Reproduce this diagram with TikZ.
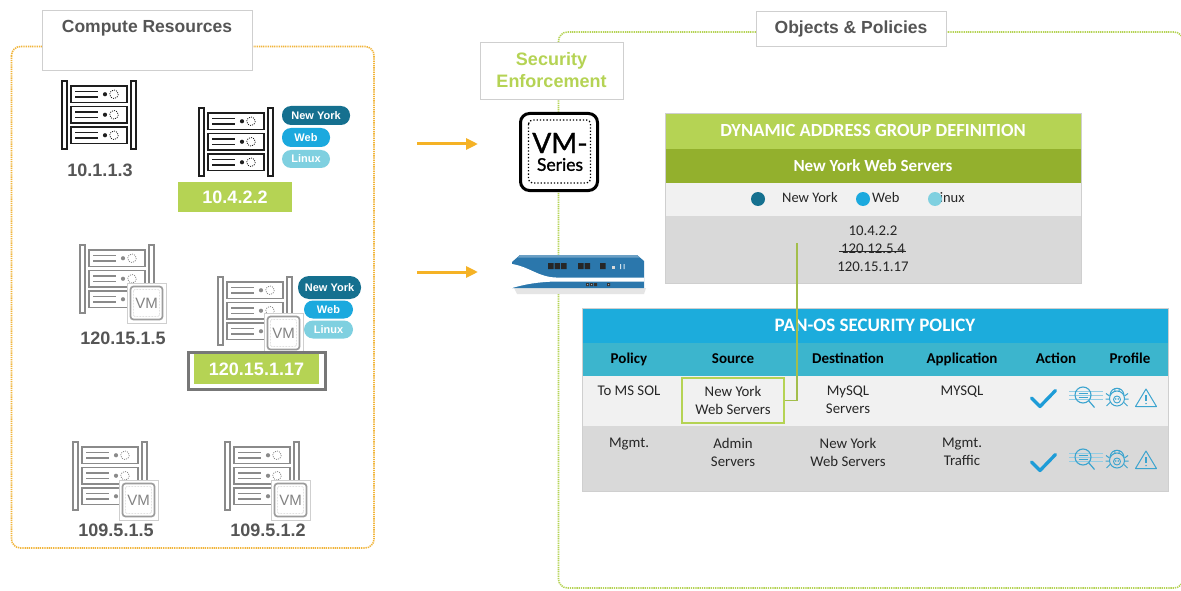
\documentclass[tikz,border=0pt]{standalone}
\usepackage{fontspec}
\setmainfont{Carlito}
\newfontfamily\arialfont{Liberation Sans}
\newfontfamily\latofont[FakeBold=1.2]{Lato}
\usetikzlibrary{arrows.meta,calc}

\definecolor{lime}{HTML}{B5D354}
\definecolor{olive}{HTML}{93B02D}
\definecolor{nyblue}{HTML}{15708F}
\definecolor{webblue}{HTML}{1BA9DE}
\definecolor{linuxblue}{HTML}{7FD0E0}
\definecolor{panelorange}{HTML}{F1B53A}
\definecolor{arroworange}{HTML}{F5B225}
\definecolor{titleblue}{HTML}{1CACDC}
\definecolor{headteal}{HTML}{3CB5CD}
\definecolor{rowlight}{HTML}{F1F1F1}
\definecolor{rowgray}{HTML}{D9D9D9}
\definecolor{labelgray}{HTML}{555555}
\definecolor{boxgray}{HTML}{CFCFCF}
\definecolor{iconblue}{HTML}{3BA4CF}
\definecolor{checkblue}{HTML}{1E9CD7}
\definecolor{fwblue}{HTML}{2B77AC}
\definecolor{rackblack}{HTML}{1E1E1E}
\definecolor{rackgray}{HTML}{8A8A8A}
\definecolor{tabletext}{HTML}{262626}
\definecolor{framegray}{HTML}{777777}

\tikzset{
  greendot/.style={draw=lime, line width=1.6pt, dash pattern=on 1.3pt off 0.9pt},
  orangedot/.style={draw=panelorange, line width=1.6pt, dash pattern=on 1.3pt off 0.9pt},
  titlebox/.style={draw=boxgray, fill=white, line width=0.9pt, inner sep=0pt},
  titletext/.style={inner sep=0pt, text=labelgray, font=\arialfont\bfseries\fontsize{17.5}{17.5}\selectfont},
  iplabel/.style={inner sep=0pt, text=labelgray, font=\arialfont\bfseries\fontsize{18}{18}\selectfont},
  greenlabel/.style={fill=lime, inner sep=0pt, text=white, font=\arialfont\bfseries\fontsize{18}{18}\selectfont},
  tagpill/.style={fill=#1, rounded corners=9pt, inner sep=0pt, text=white,
    font=\arialfont\bfseries\fontsize{11}{11}\selectfont},
  orangearrow/.style={draw=arroworange, line width=3pt, -{Triangle[length=12pt,width=11pt]}},
  rowbox/.style={inner sep=0pt, outer sep=0pt, minimum width=586pt},
  dagrow/.style={inner sep=0pt, outer sep=0pt, minimum width=416pt},
  oneline/.style={text height=10pt, text depth=3pt},
  bodytext/.style={inner sep=0pt, text=tabletext, align=center, font=\fontsize{14.8}{18}\selectfont},
  headtext/.style={inner sep=0pt, oneline, text=black, font=\bfseries\fontsize{15}{18}\selectfont},
  legendtext/.style={inner sep=0pt, oneline, anchor=west, text=tabletext, font=\fontsize{14.5}{18}\selectfont},
  % server rack icon, origin at its top left corner
  pics/rack/.style={code={
    \begin{scope}[draw=#1, line width=1.8pt]
      \draw[fill=white] (0.9,0.9) rectangle (6.1,69.1);
      \draw[fill=white] (69.9,0.9) rectangle (75.1,69.1);
      \foreach \yy in {6,26.5,47}{
        \draw[fill=white] (10,\yy) rectangle (66,\yy+16.5);
        \draw (14,\yy+5.5) -- (37,\yy+5.5) (14,\yy+11) -- (37,\yy+11);
        \fill[#1] (44,\yy+8.25) circle (2.1);
        \draw[line width=0.8pt, dash pattern=on 1pt off 1.2pt] (53,\yy+8.25) circle (4.3);
      }
    \end{scope}
  }},
  % virtual machine badge, origin at its top left corner
  pics/vmbadge/.style={code={
    \draw[draw=boxgray, fill=white, line width=0.8pt] (0,0) rectangle (39,40);
    \draw[draw=rackgray!85, line width=1.7pt, rounded corners=3pt, fill=white] (3.5,3.5) rectangle (35.5,36.5);
    \draw[draw=rackgray!60, line width=0.5pt, dash pattern=on 0.6pt off 0.9pt, rounded corners=1.5pt] (6.5,6.5) rectangle (32.5,33.5);
    \node[inner sep=0pt, text=rackgray!95!black, font=\arialfont\fontsize{15}{15}\selectfont] (-vm) at (19.5,20.5) {VM};
  }},
  pics/allowmark/.style={code={
    \draw[checkblue, line width=3.3pt, line cap=round, line join=round] (-11.5,0) -- (-3,8.5) -- (12.5,-7.5);
  }},
  pics/urlicon/.style={code={
    \draw[iconblue!55, line width=0.6pt] (-14,-3.5) -- (20,-3.5) (-14,0.5) -- (20,0.5) (-14,4.5) -- (20,4.5);
    \draw[iconblue, line width=1.1pt] (0,0) circle (8);
    \draw[iconblue, line width=1.2pt] (5.7,5.7) -- (11.5,12.5);
    \draw[iconblue, line width=0.8pt] (-4.5,-2) -- (4.5,-2) (-4.5,2) -- (4.5,2);
  }},
  pics/bugicon/.style={code={
    \draw[iconblue, line width=1pt] (0,1.5) circle (7.5);
    \draw[iconblue, line width=1pt] (-7,-2) .. controls (-6,-11) and (6,-11) .. (7,-2);
    \draw[iconblue, line width=0.9pt] (0,2.5) circle (3.5);
    \draw[iconblue, line width=1pt] (-7.5,-1) -- (-11,-3.5) (-7.7,2) -- (-11.5,2) (-7,5.5) -- (-10.5,9)
      (7.5,-1) -- (11,-3.5) (7.7,2) -- (11.5,2) (7,5.5) -- (10.5,9) (-2.2,-8.5) -- (-2.2,-6) (2.2,-8.5) -- (2.2,-6);
    \fill[iconblue] (-1.3,2) circle (0.9) (1.3,2) circle (0.9);
  }},
  pics/warnicon/.style={code={
    \draw[iconblue, line width=1pt, line join=round] (0,-9) -- (10.5,8.5) -- (-10.5,8.5) -- cycle;
    \draw[iconblue, line width=1.1pt] (0,-3) -- (0,3.2);
    \fill[iconblue] (0,5.6) circle (0.85);
  }},
}

\begin{document}
\begin{tikzpicture}[x=1pt,y=-1pt]
\useasboundingbox (0,0) rectangle (1181,591);
\fill[white] (0,0) rectangle (1181,591);

% ---------- group frames ----------
\draw[orangedot, rounded corners=9pt] (11.5,46.5) rectangle (374,548);
\begin{scope}
  \clip (0,0) rectangle (1181,591);
  \draw[greendot, rounded corners=9pt] (558.5,32) rectangle (1183,588);
\end{scope}

% ---------- group titles ----------
\node[titlebox, minimum width=210pt, minimum height=60pt] (crbox) at (147,40) {};
\node[titletext] (crtitle) at (147,28.5) {Compute Resources};
\node[titlebox, minimum width=190pt, minimum height=35pt] (opbox) at (851,28.5) {};
\node[titletext] (optitle) at (851,29) {Objects \& Policies};
\node[titlebox, minimum width=143pt, minimum height=57pt, text=lime, align=center,
      font=\arialfont\bfseries\fontsize{18}{22}\selectfont] (sebox) at (551.5,70.5) {Security\\Enforcement};

% ---------- compute resources ----------
\pic (r1) at (61,80) {rack=rackblack};
\node[iplabel] (ip1) at (100,170.5) {10.1.1.3};

\pic (r2) at (198,107) {rack=rackblack};
\node[tagpill=nyblue, minimum width=68pt, minimum height=19pt] (t2ny) at (316,115.5) {New York};
\node[tagpill=webblue, minimum width=48pt, minimum height=19pt] (t2web) at (306,137.5) {Web};
\node[tagpill=linuxblue, minimum width=48pt, minimum height=18pt] (t2lin) at (306,159) {Linux};
\node[greenlabel, minimum width=114pt, minimum height=30pt] (ip2) at (235,197) {10.4.2.2};

\pic (r3) at (79,244) {rack=rackgray};
\pic (v3) at (127,283) {vmbadge};
\node[iplabel] (ip3) at (123,338) {120.15.1.5};

\pic (r4) at (217,276) {rack=rackgray};
\pic (v4) at (264,313) {vmbadge};
\node[tagpill=nyblue, minimum width=63pt, minimum height=23pt, rounded corners=11pt] (t4ny) at (329.5,287.5) {New York};
\node[tagpill=webblue, minimum width=49pt, minimum height=18pt] (t4web) at (328.5,309.5) {Web};
\node[tagpill=linuxblue, minimum width=49pt, minimum height=18pt] (t4lin) at (328.5,329.5) {Linux};
\node[draw=framegray, line width=3pt, minimum width=137pt, minimum height=37pt, inner sep=0pt] (ip4frame) at (257,371) {};
\node[greenlabel, minimum width=125pt, minimum height=30pt] (ip4) at (256.5,369) {120.15.1.17};

\pic (r5) at (72,441) {rack=rackgray};
\pic (v5) at (119,480) {vmbadge};
\node[iplabel] (ip5) at (116,530) {109.5.1.5};

\pic (r6) at (224,441) {rack=rackgray};
\pic (v6) at (271,480) {vmbadge};
\node[iplabel] (ip6) at (268,530) {109.5.1.2};

% ---------- traffic arrows ----------
\coordinate (a1s) at (417,144);
\coordinate (a1e) at (478,144);
\coordinate (a2s) at (417,272);
\coordinate (a2e) at (478,272);
\draw[orangearrow] (a1s) -- (a1e);
\draw[orangearrow] (a2s) -- (a2e);

% ---------- VM-Series firewall ----------
\node[draw=black, line width=3pt, rounded corners=9pt, fill=white, minimum size=77pt, inner sep=0pt] (vmseries) at (559,152) {};
\draw[black, line width=1.3pt, dash pattern=on 1.3pt off 2pt, rounded corners=4pt] (528.5,120) rectangle (590.5,183);
\node[inner sep=0pt, font=\latofont\fontsize{28}{28}\selectfont] (vmtxt) at (560,143) {VM-};
\node[inner sep=0pt, font=\latofont\fontsize{17.5}{17.5}\selectfont] (sertxt) at (560,164.5) {Series};

% ---------- hardware firewall appliance ----------
\fill[black!10] (514,288) -- (646,288) -- (644,294) -- (517,294) -- cycle;
\fill[fwblue] (512,262) -- (520,255) -- (637,255) -- (644,261) -- (644,288) -- (512,288) -- cycle;
\fill[fwblue!70!white] (520,255) -- (637,255) -- (639.5,257.5) -- (517.5,257.5) -- cycle;
\fill[white] (512,264) .. controls (530,267) and (538,277) .. (556,277.5) -- (644,277.5) -- (644,281.5)
  -- (556,281.5) .. controls (538,282) and (526,284) .. (512,288) -- cycle;
\fill[black!85] (548,263) rectangle (553.5,269) (554.5,263) rectangle (560,269) (561,263) rectangle (566.5,269)
  (578,263) rectangle (583.5,269) (584.5,263) rectangle (590,269) (600,263) rectangle (605.5,269);
\fill[white!85!black] (612,266) rectangle (614.5,268.5);
\fill[white!80!fwblue] (620,264) rectangle (621,269) (623.5,264) rectangle (624.5,269);
\fill[black!80] (586,283) rectangle (589,286) (590,283) rectangle (593,286) (594,283) rectangle (597,286) (607,283) rectangle (610,286);
\fill[white!70!black] (587,284) rectangle (588,285) (591,284) rectangle (592,285) (608,284) rectangle (609,285);

% ---------- dynamic address group ----------
\node[dagrow, fill=lime, minimum height=36pt, text=white, font=\bfseries\fontsize{18.5}{18.5}\selectfont] (dagtitle) at (873,131) {DYNAMIC ADDRESS GROUP DEFINITION};
\node[dagrow, fill=olive, minimum height=34pt, text=white, font=\bfseries\fontsize{17}{17}\selectfont] (dagname) at (873,166) {New York Web Servers};
\node[dagrow, fill=rowlight, minimum height=33pt] (daglegend) at (873,199.5) {};
\node[dagrow, fill=rowgray, minimum height=67pt] (dagmembers) at (873,249.5) {};
\draw[boxgray, line width=0.8pt] (dagtitle.north west) rectangle (dagmembers.south east);

\node[legendtext] (lgny) at (782,199) {New York};
\node[legendtext] (lgweb) at (872,199) {Web};
\node[legendtext] (lglin) at (933.5,199) {Linux};
\fill[nyblue] (758,199) circle (7);
\fill[webblue] (863,199) circle (7);
\fill[linuxblue] (935,199) circle (7);

\node[bodytext, oneline] (m1) at (873,232) {10.4.2.2};
\node[bodytext, oneline] (m2) at (873,250) {120.12.5.4};
\node[bodytext, oneline] (m3) at (873,268) {120.15.1.17};
\draw[tabletext, line width=0.8pt] ([xshift=-2pt,yshift=-1pt]m2.west) -- ([xshift=1pt,yshift=-1pt]m2.east);

% ---------- security policy ----------
\node[rowbox, fill=titleblue, minimum height=35pt, text=white, font=\bfseries\fontsize{19}{19}\selectfont] (poltitle) at (875,325.5) {PAN-OS SECURITY POLICY};
\node[rowbox, fill=headteal, minimum height=33pt] (polhead) at (875,359.5) {};
\node[rowbox, fill=rowlight, minimum height=50pt] (polrow1) at (875,401) {};
\node[rowbox, fill=rowgray, minimum height=65pt] (polrow2) at (875,458.5) {};
\draw[boxgray, line width=0.8pt] (poltitle.north west) rectangle (polrow2.south east);

\node[headtext] (hpol) at (629,360) {Policy};
\node[headtext] (hsrc) at (733,360) {Source};
\node[headtext] (hdst) at (848,360) {Destination};
\node[headtext] (happ) at (962,360) {Application};
\node[headtext] (hact) at (1056,360) {Action};
\node[headtext] (hpro) at (1130,360) {Profile};

\node[bodytext, oneline] (p1a) at (629,392) {To MS SOL};
\node[bodytext, draw=lime, line width=2pt, minimum width=102pt, minimum height=45pt] (srcbox) at (733,400.5) {New York\\Web Servers};
\node[bodytext] (p1c) at (848,400) {MySQL\\Servers};
\node[bodytext, oneline] (p1d) at (962,392) {MYSQL};
\pic (ok1) at (1043,398) {allowmark};
\pic (url1) at (1083,395) {urlicon};
\pic (bug1) at (1117,397) {bugicon};
\pic (wrn1) at (1146,398) {warnicon};

\node[bodytext, oneline] (p2a) at (629,444) {Mgmt.};
\node[bodytext] (p2b) at (733,452) {Admin\\Servers};
\node[bodytext] (p2c) at (848,452) {New York\\Web Servers};
\node[bodytext] (p2d) at (962,452) {Mgmt.\\Traffic};
\pic (ok2) at (1043,462) {allowmark};
\pic (url2) at (1083,457) {urlicon};
\pic (bug2) at (1117,459) {bugicon};
\pic (wrn2) at (1146,460) {warnicon};

% ---------- group membership link ----------
\coordinate (dagtap) at (797,243);
\draw[lime!90!black, line width=1.4pt] (dagtap) |- (srcbox.east);

\end{tikzpicture}
\end{document}
